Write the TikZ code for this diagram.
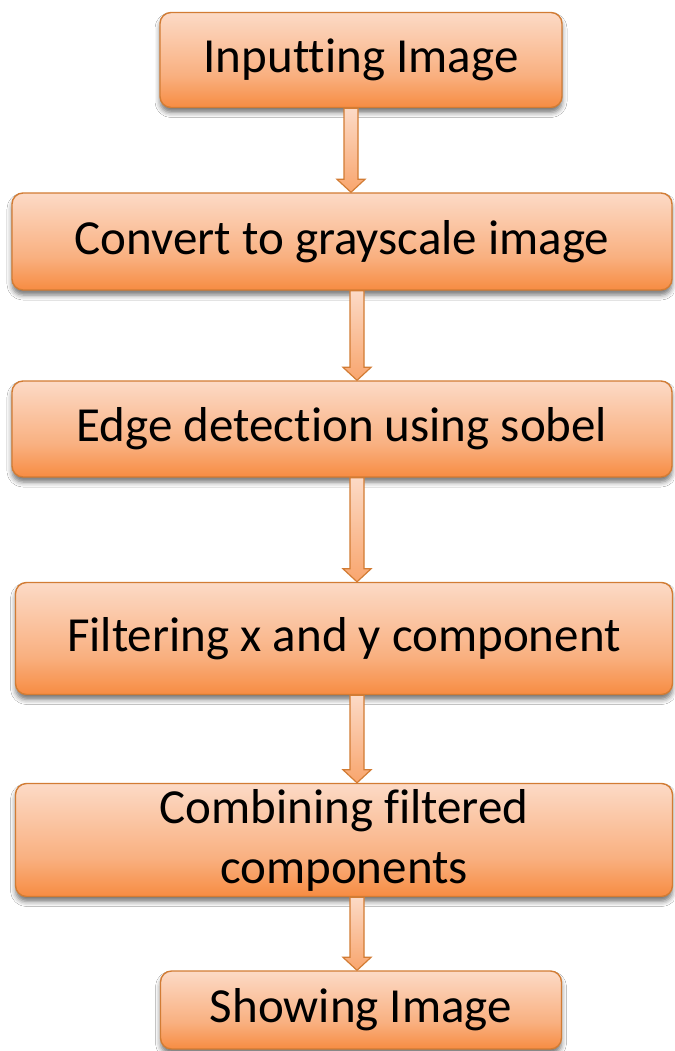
\documentclass[tikz,border=0pt]{standalone}
\usepackage{fontspec}
\setmainfont[Ligatures=NoCommon]{Carlito}
\usetikzlibrary{calc,shadows.blur}
\definecolor{boxT}{RGB}{252,218,198}
\definecolor{boxM}{RGB}{249,176,128}
\definecolor{boxB}{RGB}{247,140,66}
\definecolor{boxE}{RGB}{210,124,52}
\pgfdeclareverticalshading{boxshade}{100bp}{color(0bp)=(boxB); color(25bp)=(boxB); color(42bp)=(boxM); color(75bp)=(boxT); color(100bp)=(boxT)}
\tikzset{
  stepbox/.style={draw=boxE, line width=1.4pt, rounded corners=11pt, shading=boxshade,
    blur shadow={shadow xshift=0pt, shadow yshift=-5pt, shadow blur radius=5pt, shadow opacity=55},
    font=\fontsize{49}{60}\selectfont, align=center, inner sep=0pt},
  arrowbody/.style={draw=boxE, line width=1.2pt, top color=boxT, bottom color=boxM!70!boxB, line join=miter}
}
\newcommand\blockarrow[2]{%
  \path[arrowbody] let \p1=(#1), \p2=(#2) in
    (\x1-7pt,\y1) -- (\x1+7pt,\y1) -- (\x1+7pt,\y2+13pt) -- (\x1+14pt,\y2+13pt) --
    (\x1,\y2) -- (\x1-14pt,\y2+13pt) -- (\x1-7pt,\y2+13pt) -- cycle;}
\begin{document}
\begin{tikzpicture}[x=1pt,y=-1pt]
\useasboundingbox (0,0) rectangle (674,1051);
\fill[white] (0,0) rectangle (674,1051);
\node[stepbox, minimum width=402pt, minimum height=95pt] (n1) at (361,60) {Inputting Image};
\node[stepbox, minimum width=660pt, minimum height=97pt] (n2) at (342,241.5) {Convert to grayscale image};
\node[stepbox, minimum width=660pt, minimum height=96pt] (n3) at (342,429) {Edge detection using sobel};
\node[stepbox, minimum width=657pt, minimum height=112pt] (n4) at (344,638.5) {Filtering x and y component};
\node[stepbox, minimum width=657pt, minimum height=113pt] (n5) at (344,840) {Combining filtered\\components};
\node[stepbox, minimum width=401pt, minimum height=78pt] (n6) at (361,1010) {Showing Image};
\coordinate (a1) at (351,0);
\coordinate (a2) at (357,0);
\blockarrow{a1 |- n1.south}{a1 |- n2.north}
\blockarrow{a2 |- n2.south}{a2 |- n3.north}
\blockarrow{a2 |- n3.south}{a2 |- n4.north}
\blockarrow{a2 |- n4.south}{a2 |- n5.north}
\blockarrow{a2 |- n5.south}{a2 |- n6.north}
\end{tikzpicture}
\end{document}
